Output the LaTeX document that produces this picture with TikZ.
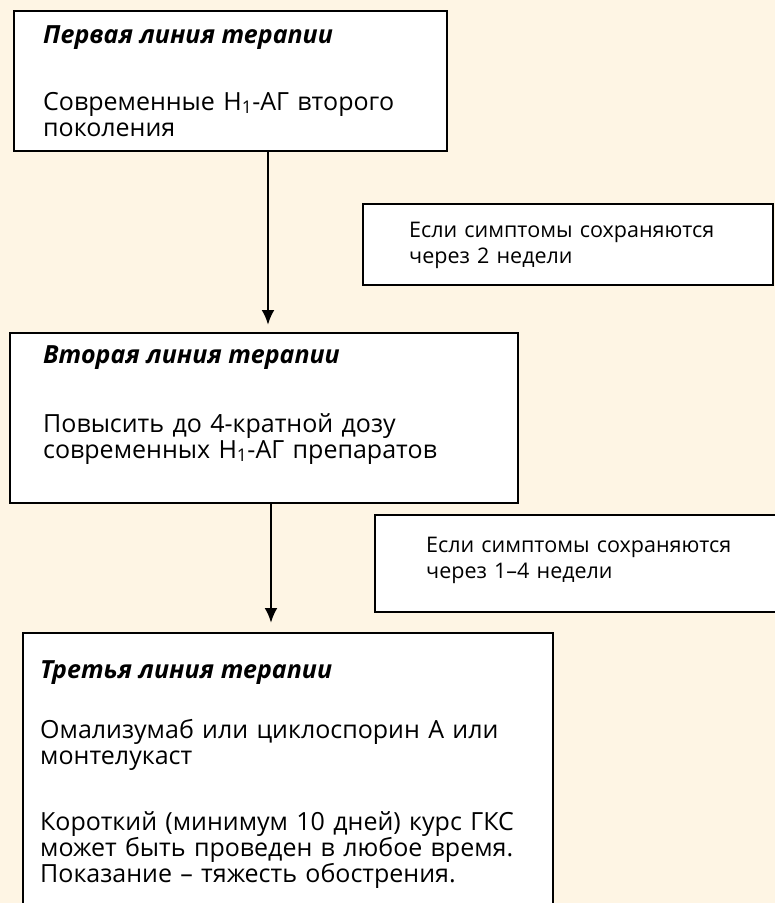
\documentclass[tikz,border=0pt]{standalone}
\usepackage{fontspec}
\setmainfont{Open Sans}
\usepackage{xcolor}
\usepackage{tikz}
\usetikzlibrary{arrows.meta}
\definecolor{cream}{HTML}{FEF5E4}

\begin{document}
\begin{tikzpicture} [
    x=1pt, y=-1pt,
    box/.style={rectangle, draw, line width=1.8pt, fill=white, anchor=north west, inner sep=0pt},
    head/.style={anchor=base west, inner sep=0pt, font=\fontsize{25}{27}\selectfont\bfseries\itshape},
    txt/.style={anchor=base west, inner sep=0pt, text width=600pt, align=left, font=\fontsize{25}{26}\selectfont},
    cond/.style={txt, font=\fontsize{21.5}{26}\selectfont},
    arrow/.style={-{Latex[length=15pt,width=13pt]}, line width=2.6pt}
]

% Background
\fill[cream] (0,0) rectangle (775,903);
\useasboundingbox (0,0) rectangle (775,903);

% Main boxes
\node[box, minimum width=433pt, minimum height=140pt] (first) at (13,10) {};
\node[box, minimum width=410pt, minimum height=81pt] (cond1) at (362,203) {};
\node[box, minimum width=508pt, minimum height=170pt] (second) at (9,332) {};
\node[box, minimum width=410pt, minimum height=97pt] (cond2) at (374,514) {};
\node[box, minimum width=530pt, minimum height=280pt] (third) at (22,632) {};

% Connections
\draw[arrow, shorten >=7pt] ([xshift=255pt]first.south west) -- ([xshift=259pt]second.north west);
\draw[arrow, shorten >=9pt] ([xshift=262pt]second.south west) -- ([xshift=249pt]third.north west);

% Labels
\node[head] (first-head) at (43,43) {Первая линия терапии};
\node[txt] (first-text) at (43,110) {Современные H\textsubscript{1}-АГ второго\\поколения};
\node[cond] (cond1-text) at (409,237) {Если симптомы сохраняются\\через 2 недели};
\node[head] (second-head) at (43,363) {Вторая линия терапии};
\node[txt] (second-text) at (43,432) {Повысить до 4-кратной дозу\\современных H\textsubscript{1}-АГ препаратов};
\node[cond] (cond2-text) at (426,552) {Если симптомы сохраняются\\через 1–4 недели};
\node[head] (third-head) at (40,678) {Третья линия терапии};
\node[txt] (third-text1) at (40,738) {Омализумаб или циклоспорин А или\\монтелукаст};
\node[txt] (third-text2) at (40,830) {Короткий (минимум 10 дней) курс ГКС\\может быть проведен в любое время.\\Показание – тяжесть обострения.};

\end{tikzpicture}
\end{document}
